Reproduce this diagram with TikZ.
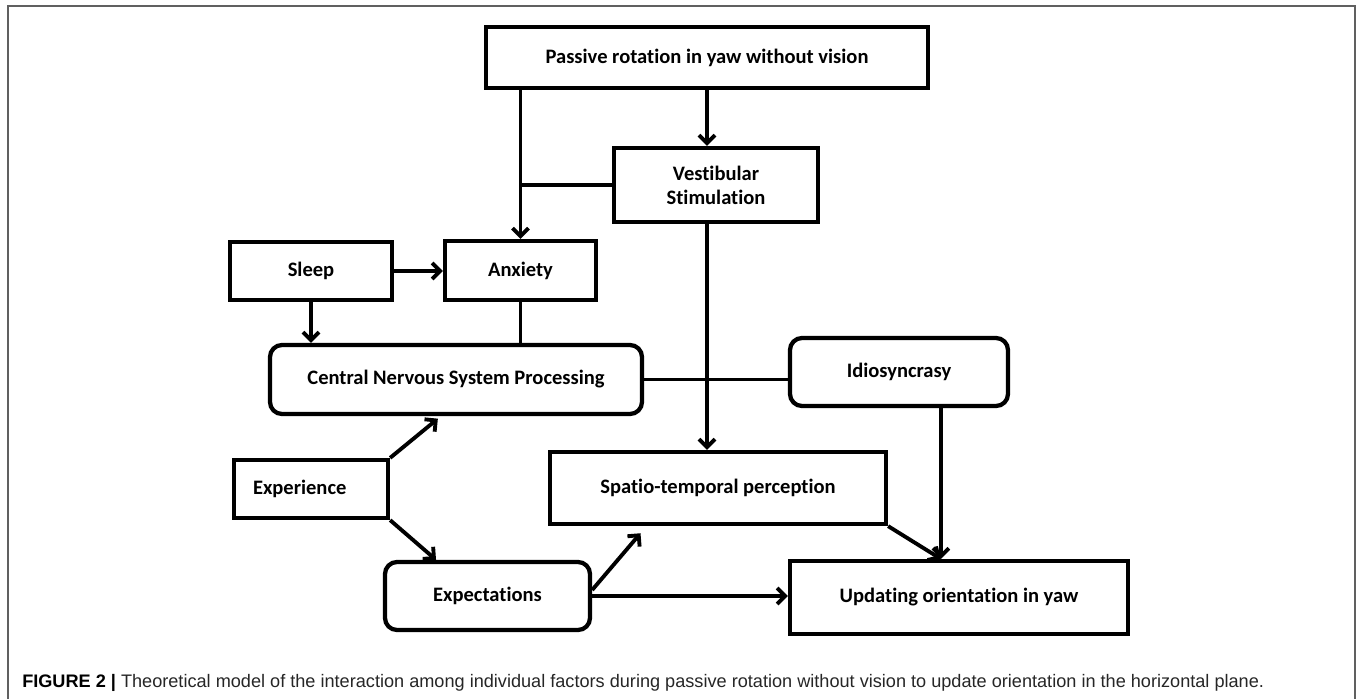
\documentclass[tikz,border=0pt]{standalone}
\usepackage{fontspec}
\setmainfont{Carlito}[Ligatures=NoCommon]
\newfontfamily\capfont{Liberation Sans}
\usetikzlibrary{arrows.meta,calc}
\tikzset{
  box/.style={draw, line width=3.2pt, inner sep=0pt, align=center,
    font=\bfseries\fontsize{15.4}{18}\selectfont},
  rbox/.style={box, rounded corners=9pt},
  link/.style={line width=2.9pt},
  arr/.style={link, -{Straight Barb[length=6pt,width=12pt,line width=2.9pt]}},
}

\begin{document}
\begin{tikzpicture}[x=0.75pt,y=-0.75pt]
    \useasboundingbox (0,0) rectangle (1358,699);
    \draw[gray!75!black, line width=1.5pt] (8,699) -- (8,6) -- (1355,6) -- (1355,699);

    % boxes
    \node[box, minimum width=331.5pt, minimum height=45.75pt] (passive) at (707,57.5) {Passive rotation in yaw without vision};
    \node[box, minimum width=153pt, minimum height=55.5pt] (vestib) at (716,185) {Vestibular\\Stimulation};
    \node[box, minimum width=121.5pt, minimum height=43.5pt] (sleep) at (311,271) {Sleep};
    \node[box, minimum width=113.25pt, minimum height=44.25pt] (anxiety) at (520.5,270.5) {Anxiety};
    \node[rbox, minimum width=279pt, minimum height=51.75pt] (cns) at (456,379.5) {Central Nervous System Processing};
    \node[rbox, minimum width=163.5pt, minimum height=51pt] (idio) at (899,372) {Idiosyncrasy};
    \node[box, minimum width=252pt, minimum height=54pt] (spatio) at (718,488) {Spatio-temporal perception};
    \node[box, minimum width=115.5pt, minimum height=43.5pt, text width=87pt, align=left] (exper) at (311,489) {Experience};
    \node[rbox, minimum width=153.75pt, minimum height=51pt] (expect) at (487.5,596) {Expectations};
    \node[box, minimum width=253.5pt, minimum height=54.75pt] (update) at (959,597.5) {Updating orientation in yaw};

    \coordinate (updtop) at ($(update.north west)!.447!(update.north east)$);

    % connectors
    \draw[arr] (passive.south) -- (passive.south |- vestib.north);
    \draw[arr] (anxiety.north |- passive.south) -- (anxiety.north);
    \draw[link] (vestib.west) -- (vestib.west -| anxiety.north);
    \draw[arr] (sleep.east) -- (sleep.east -| anxiety.west);
    \draw[arr] (sleep.south) -- (sleep.south |- cns.north);
    \draw[link] (anxiety.south) -- (anxiety.south |- cns.north);
    \draw[link] (cns.east) -- (cns.east -| idio.west);
    \draw[arr] (passive.south |- vestib.south) -- (passive.south |- spatio.north);
    \draw[arr] (idio.south -| updtop) -- (updtop);
    \draw[arr] (spatio.south east) -- (updtop);
    \draw[arr, shorten >=3pt] (exper.north east) -- ($(cns.south west)!.46!(cns.south east)$);
    \draw[arr] (exper.south east) -- ($(expect.north west)!.254!(expect.north east)$);
    \draw[arr, shorten >=7pt] ([yshift=4.5pt]expect.east) -- ($(spatio.south west)!.29!(spatio.south east)$);
    \draw[arr] (expect.east) -- (expect.east -| update.west);

    % caption
    \node[anchor=west, inner sep=0pt, text=black!85, font=\capfont\fontsize{13.6}{16}\selectfont] (caption) at (22,683)
        {\textbf{\color{black}FIGURE 2 |} Theoretical model of the interaction among individual factors during passive rotation without vision to update orientation in the horizontal plane.};
\end{tikzpicture}
\end{document}
